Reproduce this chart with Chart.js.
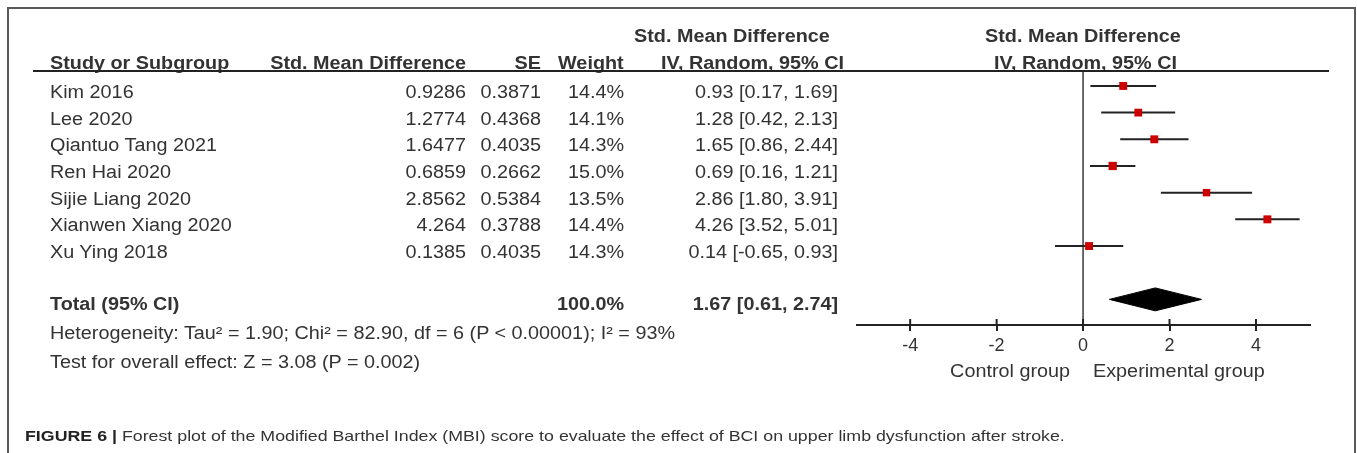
<!DOCTYPE html>
<html>
<head>
<meta charset="utf-8">
<title>Forest plot - MBI</title>
<script src="https://cdn.jsdelivr.net/npm/chart.js@4.4.1/dist/chart.umd.min.js"></script>
<style>
    html, body { margin: 0; padding: 0; background: #fff; }
    #page {
        position: relative; width: 1357px; height: 453px; overflow: hidden;
        font-family: "Liberation Sans", Arial, sans-serif; color: #333;
    }
    #forest { position: absolute; left: 0; top: 0; }
    .rule { position: absolute; background: #5a5a5a; }
    .t {
        position: absolute; font-size: 18px; line-height: 20px; white-space: nowrap;
        transform: scaleX(1.1);
    }
    .t.l { transform-origin: left center; }
    .t.r { transform-origin: right center; text-align: right; }
    .b { font-weight: bold; }
    #caption {
        position: absolute; left: 25px; top: 427px; font-size: 15px; line-height: 18px;
        white-space: nowrap; color: #333; transform-origin: left center;
    }
    #caption b { color: #222; }
</style>
</head>
<body>
<div id="page">
    <canvas id="forest" width="1357" height="453"></canvas>
    <div id="text"></div>
    <div id="caption"><b>FIGURE 6 |</b> Forest plot of the Modified Barthel Index (MBI) score to evaluate the effect of BCI on upper limb dysfunction after stroke.</div>
</div>
<script>
// Données de l'étude
const studies = ['Kim 2016', 'Lee 2020', 'Qiantuo Tang 2021', 'Ren Hai 2020', 'Sijie Liang 2020', 'Xianwen Xiang 2020', 'Xu Ying 2018'];
const smd = [0.9286, 1.2774, 1.6477, 0.6859, 2.8562, 4.264, 0.1385];
const se = [0.3871, 0.4368, 0.4035, 0.2662, 0.5384, 0.3788, 0.4035];
const weights = [14.4, 14.1, 14.3, 15.0, 13.5, 14.4, 14.3];
const ciLow = [0.17, 0.42, 0.86, 0.16, 1.80, 3.52, -0.65];
const ciHigh = [1.69, 2.13, 2.44, 1.21, 3.91, 5.01, 0.93];
const totalEst = 1.67;
const totalLow = 0.61;
const totalHigh = 2.74;
const totalWeight = 100.0;
const xTicks = [-4, -2, 0, 2, 4];

const PAGE_W = 1357;
const TOTAL_ROW = 8;
const FONT = '"Liberation Sans", Arial, sans-serif';

// Lignes verticale du zéro + demi-graduations au-dessus de l'axe
const forestGuides = {
    id: 'forestGuides',
    beforeDatasetsDraw(chart) {
        const { ctx, chartArea, scales: { x } } = chart;
        ctx.save();
        ctx.strokeStyle = '#3a3a3a';
        ctx.lineWidth = 1.5;
        const x0 = x.getPixelForValue(0);
        ctx.beginPath();
        ctx.moveTo(x0, chartArea.top);
        ctx.lineTo(x0, chartArea.bottom);
        ctx.stroke();
        ctx.strokeStyle = '#222';
        ctx.lineWidth = 2;
        xTicks.forEach(v => {
            const px = x.getPixelForValue(v);
            ctx.beginPath();
            ctx.moveTo(px, chartArea.bottom - 6);
            ctx.lineTo(px, chartArea.bottom);
            ctx.stroke();
        });
        ctx.restore();
    }
};

const ciDatasets = studies.map((s, i) => ({
    type: 'line',
    label: s,
    data: [{ x: ciLow[i], y: i }, { x: ciHigh[i], y: i }],
    borderColor: '#222',
    borderWidth: 2,
    pointRadius: 0,
    order: 2
}));

const dh = 0.43;
const diamond = {
    type: 'line',
    label: 'Total',
    data: [
        { x: totalLow, y: TOTAL_ROW },
        { x: totalEst, y: TOTAL_ROW - dh },
        { x: totalHigh, y: TOTAL_ROW },
        { x: totalEst, y: TOTAL_ROW + dh },
        { x: totalLow, y: TOTAL_ROW }
    ],
    fill: 'shape',
    backgroundColor: '#000',
    borderColor: '#000',
    borderWidth: 1,
    pointRadius: 0,
    tension: 0,
    order: 2
};

const chart = new Chart(document.getElementById('forest'), {
    type: 'scatter',
    data: {
        datasets: [{
            label: 'SMD',
            data: smd.map((v, i) => ({ x: v, y: i })),
            pointStyle: 'rect',
            pointRadius: weights.map(w => w * 0.39),
            backgroundColor: '#cc0000',
            borderWidth: 0,
            order: 0
        }, ...ciDatasets, diamond]
    },
    options: {
        responsive: false,
        animation: false,
        events: [],
        layout: { padding: { left: 857, right: 47, top: 71, bottom: 0 } },
        plugins: { legend: { display: false }, tooltip: { enabled: false } },
        scales: {
            x: {
                type: 'linear',
                min: -5.23,
                max: 5.25,
                position: 'bottom',
                afterFit: scale => { scale.height = 128; },
                afterBuildTicks: scale => { scale.ticks = xTicks.map(v => ({ value: v })); },
                border: { display: true, color: '#222', width: 2 },
                grid: { display: true, drawOnChartArea: false, drawTicks: true, tickLength: 6, color: '#222', lineWidth: 2 },
                ticks: {
                    color: '#333',
                    padding: 4,
                    maxRotation: 0,
                    font: { family: FONT, size: 18 },
                    callback: v => String(v)
                }
            },
            y: { type: 'linear', display: false, reverse: true, min: -0.56, max: 8.96 }
        }
    },
    plugins: [forestGuides]
});

// Texte du tableau (HTML)
const layer = document.getElementById('text');
function put(txt, x, cy, align, bold) {
    const d = document.createElement('div');
    d.className = 't ' + align + (bold ? ' b' : '');
    d.textContent = txt;
    d.style.top = (cy - 10) + 'px';
    if (align === 'r') d.style.right = (PAGE_W - x) + 'px';
    else d.style.left = x + 'px';
    layer.appendChild(d);
}
function rule(x, y, w, h) {
    const d = document.createElement('div');
    d.className = 'rule';
    Object.assign(d.style, { left: x + 'px', top: y + 'px', width: w + 'px', height: h + 'px' });
    layer.appendChild(d);
}

// cadre
rule(7, 7, 1349, 2);
rule(7, 7, 2, 446);
rule(1354, 7, 2, 446);

// en-têtes
const hy = 63;
put('Study or Subgroup', 50, hy, 'l', true);
put('Std. Mean Difference', 466, hy, 'r', true);
put('SE', 541, hy, 'r', true);
put('Weight', 624, hy, 'r', true);
put('Std. Mean Difference', 634, 36, 'l', true);
put('IV, Random, 95% CI', 661, hy, 'l', true);
put('Std. Mean Difference', 985, 36, 'l', true);
put('IV, Random, 95% CI', 994, hy, 'l', true);
const hl = document.createElement('div');
hl.className = 'rule';
Object.assign(hl.style, { left: '33px', top: '70px', width: '1296px', height: '2px', background: '#222' });
layer.appendChild(hl);

// lignes d'études
const yScale = chart.scales.y;
studies.forEach((s, i) => {
    const cy = yScale.getPixelForValue(i) + 6;
    put(s, 50, cy, 'l', false);
    put(String(smd[i]), 466, cy, 'r', false);
    put(se[i].toFixed(4), 541, cy, 'r', false);
    put(weights[i].toFixed(1) + '%', 624, cy, 'r', false);
    put(smd[i].toFixed(2) + ' [' + ciLow[i].toFixed(2) + ', ' + ciHigh[i].toFixed(2) + ']', 838, cy, 'r', false);
});

// total
const ty = yScale.getPixelForValue(TOTAL_ROW) + 5;
put('Total (95% CI)', 50, ty, 'l', true);
put(totalWeight.toFixed(1) + '%', 624, ty, 'r', true);
put(totalEst.toFixed(2) + ' [' + totalLow.toFixed(2) + ', ' + totalHigh.toFixed(2) + ']', 838, ty, 'r', true);
put('Heterogeneity: Tau\u00b2 = 1.90; Chi\u00b2 = 82.90, df = 6 (P < 0.00001); I\u00b2 = 93%', 50, 333, 'l', false);
put('Test for overall effect: Z = 3.08 (P = 0.002)', 50, 362, 'l', false);

// libellés sous l'axe
put('Control group', 1070, 371, 'r', false);
put('Experimental group', 1093, 371, 'l', false);

// légende de la figure, ajustée à la largeur
const cap = document.getElementById('caption');
cap.style.transform = 'scaleX(' + (1040 / cap.offsetWidth) + ')';
</script>
</body>
</html>
